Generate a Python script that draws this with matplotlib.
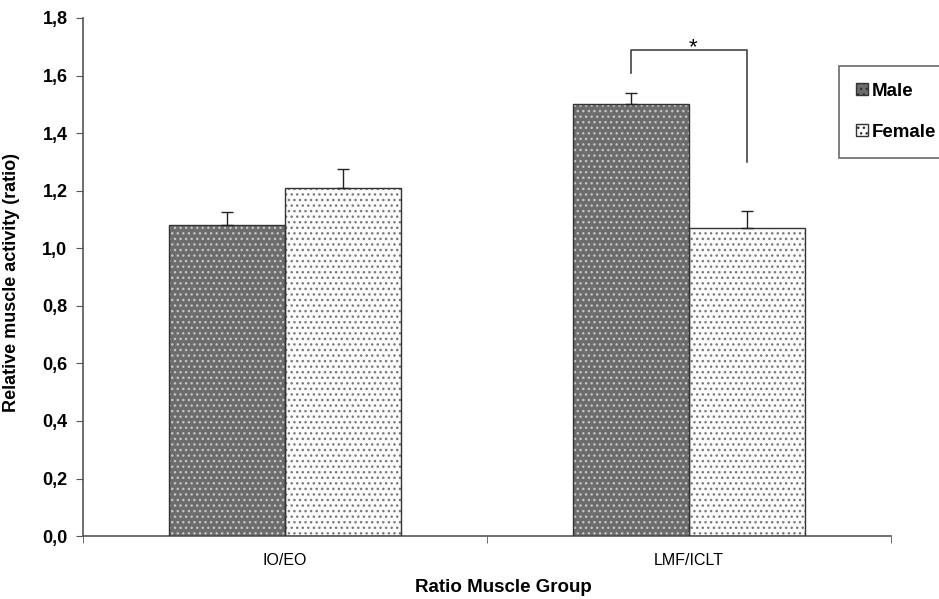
import matplotlib.pyplot as plt
import numpy as np
from matplotlib.patches import Patch

plt.rcParams['font.family'] = ['Liberation Sans', 'DejaVu Sans']
plt.rcParams['hatch.linewidth'] = 1.0

# data
groups = ['IO/EO', 'LMF/ICLT']
male = [1.08, 1.50]
male_err = [0.045, 0.04]
female = [1.21, 1.07]
female_err = [0.065, 0.06]
yticks = [0.0, 0.2, 0.4, 0.6, 0.8, 1.0, 1.2, 1.4, 1.6, 1.8]

fig = plt.figure(figsize=(9.39, 5.99), dpi=100)
ax = fig.add_axes([0.0881, 0.105, 0.8605, 0.865])

x = np.arange(len(groups))
w = 0.287
axis_col = '#555555'

# male: grey with light dot grid
ax.bar(x - w / 2, male, w, color='#6c6c6c', edgecolor='#c4c4c4', hatch='...', linewidth=0, zorder=2)
ax.bar(x - w / 2, male, w, fill=False, edgecolor='#333333', linewidth=1.0, zorder=3)
# female: white with fine dark dots
ax.bar(x + w / 2, female, w, color='#fbfbfb', edgecolor='#7a7a7a', hatch='...', linewidth=0, zorder=2)
ax.bar(x + w / 2, female, w, fill=False, edgecolor='#333333', linewidth=1.0, zorder=3)

# upper error bars only
ax.errorbar(x - w / 2, male, yerr=[np.zeros(2), male_err], fmt='none',
            ecolor='#222222', elinewidth=1.0, capsize=4, capthick=1.0, zorder=4)
ax.errorbar(x + w / 2, female, yerr=[np.zeros(2), female_err], fmt='none',
            ecolor='#222222', elinewidth=1.0, capsize=4, capthick=1.0, zorder=4)

# significance bracket over LMF/ICLT
bx0, bx1 = 1 - w / 2, 1 + w / 2
ax.plot([bx0, bx0, bx1, bx1], [1.61, 1.69, 1.69, 1.30], color='#444444', lw=1.2, zorder=4)
ax.text((bx0 + bx1) / 2 + 0.01, 1.66, '*', ha='center', va='bottom', fontsize=16)

ax.set_xlim(-0.5, 1.5)
ax.set_ylim(0, 1.8)
ax.set_yticks(yticks)
ax.set_yticklabels([f'{v:.1f}'.replace('.', ',') for v in yticks], fontweight='bold', fontsize=13)
ax.set_xticks(x)
ax.set_xticklabels(groups, fontsize=11.5)
ax.set_xticks([-0.5, 0.5, 1.5], minor=True)
ax.tick_params(axis='x', which='major', length=0, pad=12)
ax.tick_params(axis='x', which='minor', length=5, direction='out', color=axis_col)
ax.tick_params(axis='y', length=5, direction='out', color=axis_col, pad=6)

for s in ['top', 'right']:
    ax.spines[s].set_visible(False)
for s in ['left', 'bottom']:
    ax.spines[s].set_color(axis_col)
    ax.spines[s].set_linewidth(1.2)

ax.set_ylabel('Relative muscle activity (ratio)', fontsize=13, fontweight='bold')
ax.yaxis.set_label_coords(-0.078, 0.49)
ax.set_xlabel('Ratio Muscle Group', fontsize=13.5, fontweight='bold')
ax.xaxis.set_label_coords(0.52, -0.082)

handles = [Patch(facecolor='#6c6c6c', edgecolor='#333333', hatch='...'),
           Patch(facecolor='#fbfbfb', edgecolor='#333333', hatch='...')]
leg = fig.legend(handles, ['Male', 'Female'], loc='upper left',
                 bbox_to_anchor=(0.884, 0.906), frameon=True, fancybox=False,
                 edgecolor='#444444', handlelength=0.6, handleheight=0.6,
                 handletextpad=0.2, labelspacing=1.3, borderpad=0.9,
                 prop={'weight': 'bold', 'size': 13.5})
leg.get_frame().set_linewidth(1.2)

fig.savefig('out.png', dpi=100, facecolor='white')
